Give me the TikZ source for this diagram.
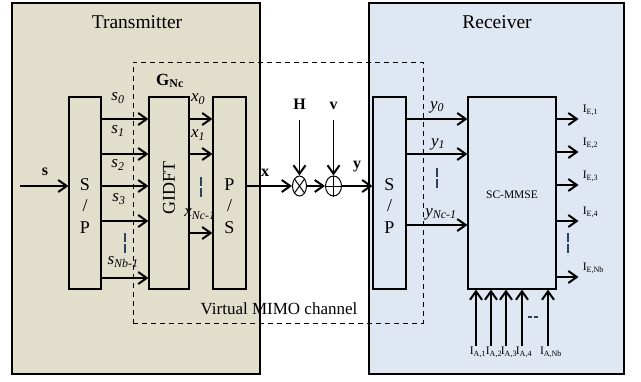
\documentclass[tikz,border=0pt]{standalone}
\usepackage{fontspec}
\setmainfont{Liberation Serif}
\usepackage{xcolor}
\usepackage{tikz}
\usetikzlibrary{arrows.meta,positioning,shapes.geometric,calc}

\definecolor{txfill}{RGB}{225,222,204}
\definecolor{rxfill}{RGB}{223,231,242}
\definecolor{dotblue}{RGB}{45,65,95}

\begin{document}
\begin{tikzpicture}[
  x=1pt, y=-1pt,
  font=\fontsize{17}{20}\selectfont,
  panel/.style={draw, line width=1.1pt, inner sep=0pt},
  block/.style={draw, line width=1.1pt, inner sep=0pt, minimum height=192pt},
  title/.style={font=\fontsize{19.5}{22}\selectfont},
  blocktxt/.style={font=\fontsize{18}{21.5}\selectfont, align=center},
  bold/.style={font=\fontsize{16}{18}\selectfont\bfseries},
  small/.style={font=\fontsize{11.5}{13}\selectfont, inner sep=1pt},
  arrow/.style={-{Straight Barb[length=8.5pt,width=12pt,line width=2pt]}, line width=1.1pt},
  gaps/.style={dotblue, line width=1.3pt, dash pattern=on 9pt off 2pt}
]
\useasboundingbox (0,0) rectangle (641,381);

% panels
\node[panel, fill=txfill, minimum width=248pt, minimum height=371pt] (tx) at (136,188.5) {};
\node[panel, fill=rxfill, minimum width=255pt, minimum height=371pt] (rx) at (496.5,188.5) {};
\node[title] (txTitle) at (137,22) {Transmitter};
\node[title] (rxTitle) at (497,22) {Receiver};

% virtual channel
\node[draw, line width=1pt, dash pattern=on 5pt off 4pt, minimum width=290pt, minimum height=261pt] (vmimo) at (278,192.5) {};
\node (vmimoTxt) at (279,309) {Virtual MIMO channel};

% blocks
\node[block, fill=txfill, minimum width=32pt] (spTx) at (85,193) {};
\node[block, fill=txfill, minimum width=40pt] (gidft) at (169,193) {};
\node[block, fill=txfill, minimum width=33pt] (psTx) at (229.5,193) {};
\node[block, fill=rxfill, minimum width=33pt] (spRx) at (389.5,193) {};
\node[block, fill=rxfill, minimum width=88pt] (mmse) at (512,193) {};

\node[blocktxt] (spTxTxt) at ([yshift=-13pt]spTx.center) {S\\/\\P};
\node[blocktxt, rotate=90] (gidftTxt) at (169,188) {GIDFT};
\node[blocktxt] (psTxTxt) at ([yshift=-13pt]psTx.center) {P\\/\\S};
\node[blocktxt] (spRxTxt) at ([yshift=-13pt]spRx.center) {S\\/\\P};
\node[font=\fontsize{11.5}{13}\selectfont] (mmseTxt) at (512,195) {SC-MMSE};
\node[bold, font=\fontsize{17}{19}\selectfont\bfseries] (gLbl) at (170,81) {G\textsubscript{Nc}};

% rows
\coordinate (rA) at (0,119);
\coordinate (rB) at (0,154);
\coordinate (rC) at (0,186);
\coordinate (rD) at (0,221);
\coordinate (rE) at (0,278);
\coordinate (rX) at (0,233);
\coordinate (rY) at (0,225);

% input
\coordinate (sIn) at (20,186);
\node[bold] (sLbl) at (45,172) {s};
\draw[arrow] (sIn) -- (sIn -| spTx.west);

% S/P -> GIDFT
\draw[arrow] (spTx.east |- rA) -- (gidft.west |- rA);
\draw[arrow] (spTx.east |- rB) -- (gidft.west |- rB);
\draw[arrow] (spTx.east |- rC) -- (gidft.west |- rC);
\draw[arrow] (spTx.east |- rD) -- (gidft.west |- rD);
\draw[arrow] (spTx.east |- rE) -- (gidft.west |- rE);
\node (s0) at (118,98) {\textit{s}\textsubscript{\textit{0}}};
\node (s1) at (118,131) {\textit{s}\textsubscript{\textit{1}}};
\node (s2) at (118,165) {\textit{s}\textsubscript{\textit{2}}};
\node (s3) at (119,199) {\textit{s}\textsubscript{\textit{3}}};
\node (sNb) at (123,262) {\textit{s}\textsubscript{\textit{Nb-1}}};
\draw[gaps] (125,233) -- (125,255);

% GIDFT -> P/S
\draw[arrow] (gidft.east |- rA) -- (psTx.west |- rA);
\draw[arrow] (gidft.east |- rB) -- (psTx.west |- rB);
\draw[arrow] (gidft.east |- rX) -- (psTx.west |- rX);
\node (x0) at (198,99) {\textit{x}\textsubscript{\textit{0}}};
\node (x1) at (198,135) {\textit{x}\textsubscript{\textit{1}}};
\node (xNc) at (200,214) {\textit{x}\textsubscript{\textit{Nc-1}}};
\draw[gaps] (201,177) -- (201,198);

% channel
\node[ellipse, draw, line width=1pt, minimum width=14pt, minimum height=20pt, inner sep=0pt] (mult) at (299.5,186) {};
\draw[line width=1pt] (mult.north east) -- (mult.south west) (mult.north west) -- (mult.south east);
\node[ellipse, draw, line width=1pt, minimum width=16pt, minimum height=20pt, inner sep=0pt] (plus) at (333.5,186) {};
\draw[line width=1pt] (plus.north) -- (plus.south) (plus.west) -- (plus.east);

\coordinate (hTop) at (299.5,120);
\coordinate (vTop) at (333.5,120);
\node[bold, above=7pt of hTop] (hLbl) {H};
\node[bold, above=7pt of vTop] (vLbl) {v};
\draw[arrow] (hTop) -- (mult.north);
\draw[arrow] (vTop) -- (plus.north);

\node[bold] (xLbl) at (265,173) {x};
\node[bold] (yLbl) at (357,167) {y};
\draw[arrow] (psTx.east |- rC) -- (mult.west);
\draw[arrow] (mult.east) -- (plus.west);
\draw[arrow] (plus.east) -- (spRx.west |- rC);

% S/P -> SC-MMSE
\draw[arrow] (spRx.east |- rA) -- (mmse.west |- rA);
\draw[arrow] (spRx.east |- rB) -- (mmse.west |- rB);
\draw[arrow] (spRx.east |- rY) -- (mmse.west |- rY);
\node (y0) at (437,107) {\textit{y}\textsubscript{\textit{0}}};
\node (y1) at (438,144) {\textit{y}\textsubscript{\textit{1}}};
\node (yNc) at (441,214) {\textit{y}\textsubscript{\textit{Nc-1}}};
\draw[gaps] (437,168) -- (437,190);

% extrinsic outputs
\draw[arrow] (mmse.east |- rA) -- ++(22,0) coordinate (e1);
\draw[arrow] (mmse.east |- 0,152) -- ++(22,0) coordinate (e2);
\draw[arrow] (mmse.east |- 0,185) -- ++(22,0) coordinate (e3);
\draw[arrow] (mmse.east |- rD) -- ++(22,0) coordinate (e4);
\draw[arrow] (mmse.east |- 0,277) -- ++(22,0) coordinate (e5);
\node[small, anchor=south west] (ie1) at ([shift={(3pt,2pt)}]e1) {I\textsubscript{E,1}};
\node[small, anchor=south west] (ie2) at ([shift={(3pt,2pt)}]e2) {I\textsubscript{E,2}};
\node[small, anchor=south west] (ie3) at ([shift={(3pt,2pt)}]e3) {I\textsubscript{E,3}};
\node[small, anchor=south west] (ie4) at ([shift={(3pt,2pt)}]e4) {I\textsubscript{E,4}};
\node[small, anchor=south west] (ie5) at ([shift={(3pt,2pt)}]e5) {I\textsubscript{E,Nb}};
\draw[gaps] (568,233) -- (568,255);

% a priori inputs
\node[small] (ia1) at (478,352) {I\textsubscript{A,1}};
\node[small] (ia2) at (494,352) {I\textsubscript{A,2}};
\node[small] (ia3) at (509,352) {I\textsubscript{A,3}};
\node[small] (ia4) at (524,352) {I\textsubscript{A,4}};
\node[small] (ia5) at (551,352) {I\textsubscript{A,Nb}};
\draw[arrow] ([xshift=-2pt]ia1.north) -- ([xshift=-2pt]ia1.north |- mmse.south);
\draw[arrow] ([xshift=-3pt]ia2.north) -- ([xshift=-3pt]ia2.north |- mmse.south);
\draw[arrow] ([xshift=-3pt]ia3.north) -- ([xshift=-3pt]ia3.north |- mmse.south);
\draw[arrow] ([xshift=-2pt]ia4.north) -- ([xshift=-2pt]ia4.north |- mmse.south);
\draw[arrow] ([xshift=-3pt]ia5.north) -- ([xshift=-3pt]ia5.north |- mmse.south);
\draw[gaps, dash pattern=on 4pt off 2pt] (528,317) -- (538,317);
\end{tikzpicture}
\end{document}
